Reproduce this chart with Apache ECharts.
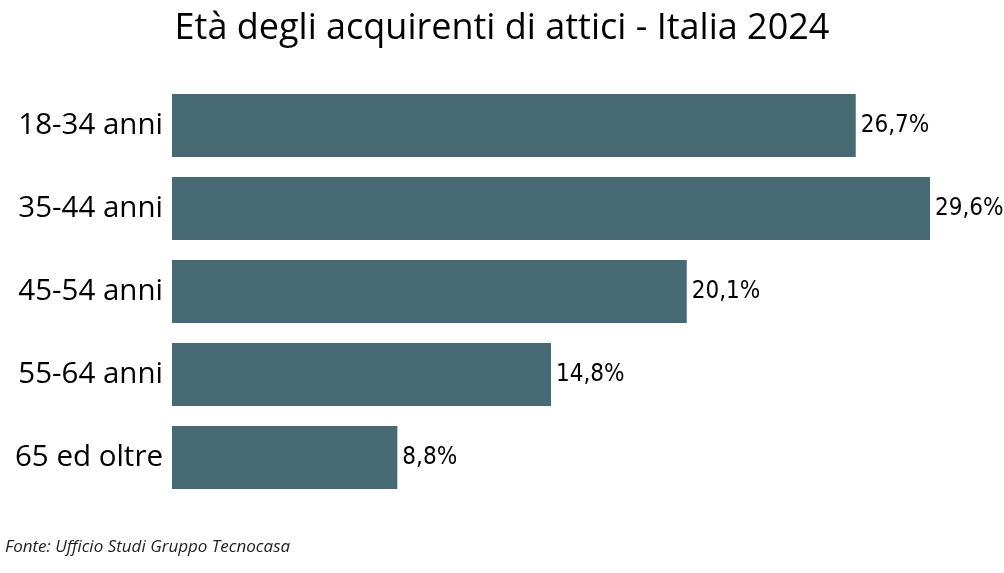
<!DOCTYPE html>
<html><head><meta charset="utf-8">
<script src="https://cdn.jsdelivr.net/npm/echarts@6/dist/echarts.min.js"></script>
<style>html,body{margin:0;padding:0;background:#fff}#c{width:1004px;height:573px}</style>
</head><body><div id="c"></div>
<script>
const titleText = "Età degli acquirenti di attici - Italia 2024";
const sourceText = "Fonte: Ufficio Studi Gruppo Tecnocasa";
const categories = ["18-34 anni", "35-44 anni", "45-54 anni", "55-64 anni", "65 ed oltre"];
const values = [26.7, 29.6, 20.1, 14.8, 8.8];

const chart = echarts.init(document.getElementById('c'), null, {renderer: 'canvas'});
chart.setOption({
  backgroundColor: '#ffffff',
  animation: false,
  title: {
    text: titleText, left: 'center', top: 6,
    textStyle: {fontFamily: 'Open Sans', fontSize: 36, fontWeight: 'normal', color: '#000'}
  },
  graphic: [{
    type: 'text', left: 5, top: 539,
    style: {text: sourceText, font: 'italic 17px "Open Sans"', fill: '#222'}
  }],
  grid: {left: 172, right: 74, top: 84, bottom: 74, containLabel: false},
  xAxis: {type: 'value', min: 0, max: 29.6, show: false},
  yAxis: {
    type: 'category', data: categories, inverse: true,
    axisLine: {show: false}, axisTick: {show: false},
    axisLabel: {fontFamily: 'Open Sans', fontSize: 29.5, color: '#000', margin: 9}
  },
  series: [{
    type: 'bar', data: values, barCategoryGap: '24%',
    itemStyle: {color: '#466974'},
    label: {
      show: true, position: 'right', distance: 5,
      fontFamily: 'DejaVu Sans Condensed', fontSize: 24, color: '#000',
      formatter: p => p.value.toFixed(1).replace('.', ',') + '%'
    }
  }]
});
</script></body></html>
